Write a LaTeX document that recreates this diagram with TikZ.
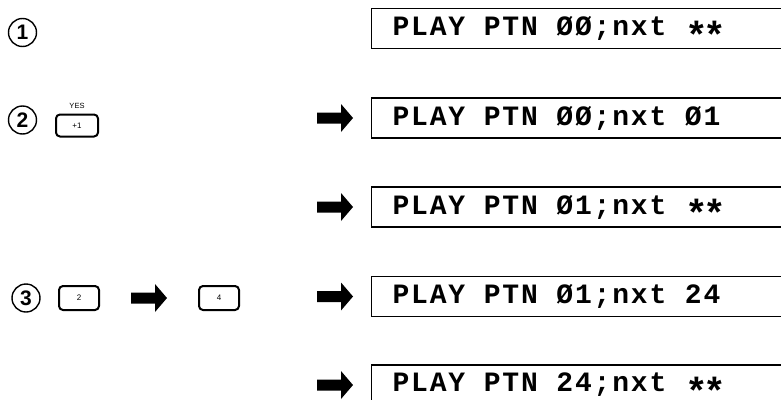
\documentclass[tikz,border=0pt]{standalone}
\usepackage{fontspec}
\setmainfont{Liberation Sans}
\newfontfamily\lcdfont{Liberation Mono}[LetterSpace=6.5]
\newcommand\lcdgap{\hspace{18.6pt}}
\newcommand\lcdstar{\makebox[18.6pt][l]{\raisebox{-12.5pt}[0pt][0pt]{\scalebox{1.35}{*}}}}
\usetikzlibrary{positioning}

\begin{document}
\begin{tikzpicture}[x=1pt,y=-1pt,
		display/.style={draw, line width=1.2pt, anchor=west, minimum height=40pt,
			text width=440pt, inner xsep=21pt, align=left,
			font=\lcdfont\bfseries\fontsize{28}{28}\selectfont},
		circled/.style={draw, circle, line width=1.4pt, minimum size=28pt, inner sep=0pt,
			font=\bfseries\fontsize{21}{21}\selectfont},
		keycap/.style={draw, rounded corners=4pt, line width=2pt, minimum width=42pt,
			minimum height=22pt, inner sep=0pt, font=\fontsize{8}{8}\selectfont},
		pics/fatarrow/.style={code={
				\fill (0,0) -- (-12,-14) -- (-12,-5.5) -- (-36,-5.5) -- (-36,5.5) -- (-12,5.5) -- (-12,14) -- cycle;}}
		]
		\useasboundingbox (0,0) rectangle (781,399);
		\clip (0,0) rectangle (781,399);
		% displays
		\node[display] (d1) at (371,28.5) {PLAY\lcdgap PTN\lcdgap ØØ;nxt\lcdgap \lcdstar\lcdstar};
		\node[display] (d2) at (371,118) {PLAY\lcdgap PTN\lcdgap ØØ;nxt\lcdgap Ø1};
		\node[display] (d3) at (371,207) {PLAY\lcdgap PTN\lcdgap Ø1;nxt\lcdgap \lcdstar\lcdstar};
		\node[display] (d4) at (371,296.5) {PLAY\lcdgap PTN\lcdgap Ø1;nxt\lcdgap 24};
		\node[display] (d5) at (371,385) {PLAY\lcdgap PTN\lcdgap 24;nxt\lcdgap \lcdstar\lcdstar};
		\foreach \d in {d2,d3,d4,d5}
			\pic at ([xshift=-18pt]\d.west) {fatarrow};
		% steps
		\node[circled] (s1) at (22.5,32.5) {1};
		\node[circled] (s2) at (22.5,120) {2};
		\node[circled] (s3) at (26,298) {3};
		% keys
		\node[keycap] (kyes) at (77,125.5) {+1};
		\node[font=\fontsize{7.5}{7.5}\selectfont, above=1pt of kyes] (lyes) {YES};
		\node[keycap, minimum width=40pt, minimum height=24pt] (k2) at (79,298) {2};
		\node[keycap, minimum width=40pt, minimum height=24pt] (k4) at (219,298) {4};
		\pic at ([xshift=-31pt]k4.west) {fatarrow};
	\end{tikzpicture}
\end{document}
